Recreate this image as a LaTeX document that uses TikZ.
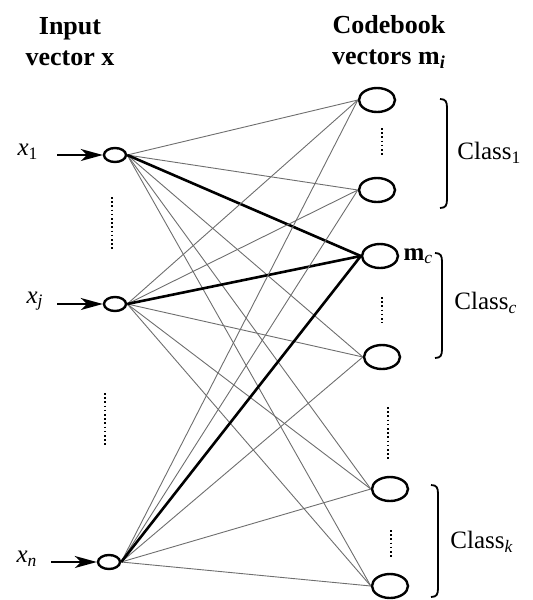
\documentclass[tikz,border=0pt]{standalone}
\usepackage{fontspec}
\setmainfont{Liberation Serif}
\usepackage{xcolor}
\definecolor{lvqgray}{HTML}{6E6E6E}
\usepackage{tikz}
\usetikzlibrary{
  shapes.geometric, arrows.meta, positioning
}

\begin{document}
\begin{tikzpicture}[x=0.5pt, y=-0.5pt,
    innode/.style={ellipse, draw, line width=1.2pt, inner sep=0pt,
                   minimum width=11pt, minimum height=7pt},
    cbnode/.style={ellipse, draw, line width=1.2pt, inner sep=0pt,
                   minimum width=18pt, minimum height=12pt},
    link/.style={lvqgray, line width=0.45pt},
    winlink/.style={black, line width=1.3pt},
    vdots/.style={line width=0.9pt, dash pattern=on 0.8pt off 1.3pt},
    feed/.style={-{Stealth[length=11pt, width=6pt, inset=3pt]}, line width=0.8pt},
    brace/.style={line width=0.9pt},
    lbl/.style={font=\fontsize{12.5}{14}\selectfont, inner sep=1pt},
    head/.style={font=\fontsize{13}{15.5}\selectfont\bfseries, align=center}
  ]
    \useasboundingbox (0,0) rectangle (532,600);

    \node[head] (hin) at (70,42) {Input\\vector x};
    \node[head] (hcb) at (389,42) {Codebook\\vectors m\textsubscript{\textit{i}}};

    \node[innode] (in1) at (115,155) {};
    \node[innode] (inj) at (115,304) {};
    \node[innode] (inn) at (109,562) {};

    \foreach \n/\x/\y in {1/377/100, 2/377/190, 3/380/256,
                          4/382/357, 5/390/489, 6/390/586}
      \node[cbnode] (cb\n) at (\x,\y) {};

    \foreach \i in {1,j,n} {
      \foreach \k in {1,2,4,5,6}
        \draw[link] (in\i.east) -- (cb\k.west);
      \draw[winlink] (in\i.east) -- (cb3.west);
    }

    \node[lbl] (lx1) at (28,152) {\textit{x}\textsubscript{1}};
    \node[lbl] (lxj) at (35,301) {\textit{x}\textsubscript{\textit{j}}};
    \node[lbl] (lxn) at (27,559) {\textit{x}\textsubscript{\textit{n}}};
    \coordinate (t1) at (57,155);
    \coordinate (tj) at (57,304);
    \coordinate (tn) at (51,562);
    \draw[feed] (t1) -- (in1.west);
    \draw[feed] (tj) -- (inj.west);
    \draw[feed] (tn) -- (inn.west);

    \draw[vdots] (112,197) -- (112,251);
    \draw[vdots] (105,393) -- (105,446);
    \draw[vdots] (382,128) -- (382,155);
    \draw[vdots] (382,297) -- (382,323);
    \draw[vdots] (388,407) -- (388,460);
    \draw[vdots] (391,530) -- (391,557);

    \foreach \x/\t/\b in {447/99/208, 442/253/358, 438/485/597}
      \draw[brace] (\x-7,\t) .. controls (\x-1,\t) and (\x,\t+3) .. (\x,\t+9)
        -- (\x,\b-9) .. controls (\x,\b-3) and (\x-1,\b) .. (\x-7,\b);

    \node[lbl, right=1pt of cb3] (mc) {\textbf{m}\textsubscript{\textit{c}}};
    \node[lbl, anchor=west] (c1) at (455,153) {Class\textsubscript{1}};
    \node[lbl, anchor=west] (cc) at (452,303) {Class\textsubscript{\textit{c}}};
    \node[lbl, anchor=west] (ck) at (448,542) {Class\textsubscript{\textit{k}}};
\end{tikzpicture}
\end{document}
